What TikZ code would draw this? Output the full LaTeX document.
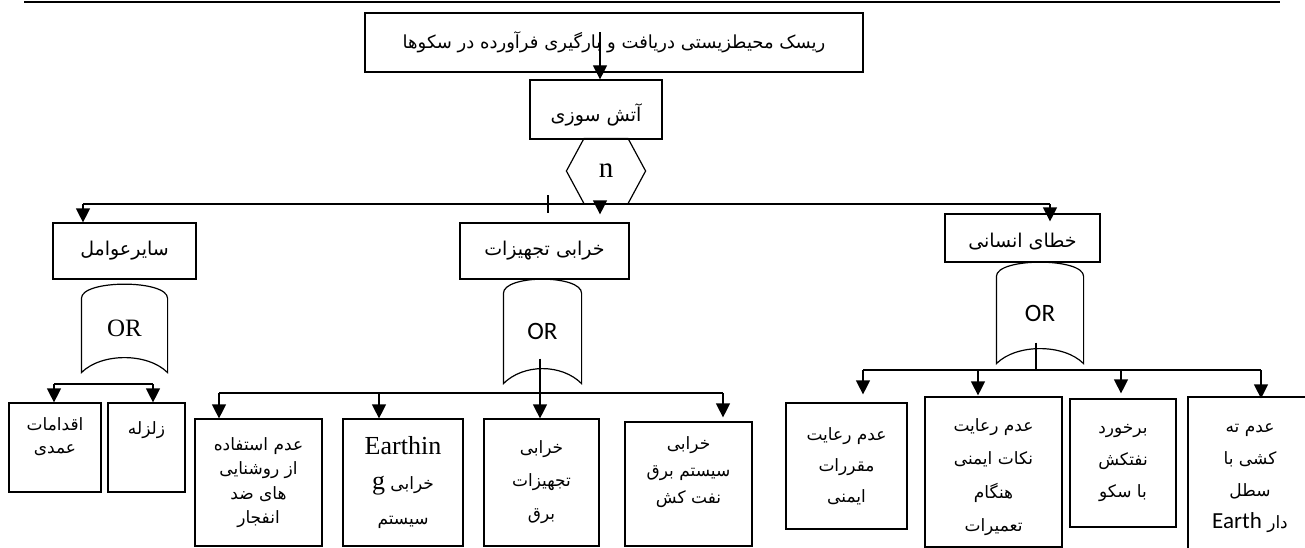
\documentclass[tikz,border=0pt]{standalone}
\usepackage{fontspec}
\usetikzlibrary{arrows.meta,calc}
\newfontfamily\fa[Script=Arabic]{DejaVu Sans}
\newfontfamily\tnr{Liberation Serif}
\newfontfamily\carl{Carlito}
\TeXXeTstate=1

\begin{document}
\begin{tikzpicture}[x=1pt, y=-1pt, line width=1.2pt, >={Triangle[length=14pt,width=14pt]},
	arr/.style={->},
	cell/.style={draw, rectangle, inner sep=0pt, align=center, font=\fa\fontsize{17}{#1}\selectfont},
	gate/.style={inner sep=0pt},
	big/.style={font=\fa\fontsize{19}{22}\selectfont}]

	\useasboundingbox (0,0) rectangle (1305,548);
	\draw[line width=2.5pt] (24,2) -- (1280,2);

	\node [cell=22, font=\fa\fontsize{18}{22}\selectfont, line width=2pt, minimum width=498pt, minimum height=59pt] (T) at (614,42.5)
		{\beginR ریسک محیطزیستی دریافت و بارگیری فرآورده در سکوها\endR};
	\node [cell=22, big, minimum width=132pt, minimum height=59pt] (F) at (596,109.5)
		{\raisebox{-5pt}[\height][\depth]{\beginR آتش سوزی\endR}};
	\node [gate, minimum width=78pt, minimum height=64pt, font=\tnr\fontsize{29}{29}\selectfont] (N) at (606,171) {n};

	\node [cell=22, big, minimum width=143pt, minimum height=56pt] (S) at (124.5,251) {\beginR سایرعوامل\endR};
	\node [cell=22, big, minimum width=169pt, minimum height=56pt] (E) at (544.5,251) {\beginR خرابی تجهیزات\endR};
	\node [cell=22, big, minimum width=155pt, minimum height=48pt] (H) at (1022.5,238)
		{\raisebox{-4pt}[\height][\depth]{\beginR خطای انسانی\endR}};

	\node [gate, minimum width=85pt, minimum height=87pt, font=\tnr\fontsize{25}{25}\selectfont] (G1) at (124.5,328.5) {OR};
	\node [gate, minimum width=77pt, minimum height=103pt, font=\carl\fontsize{25}{25}\selectfont] (G2) at (542.5,331.5) {OR};
	\node [gate, minimum width=86pt, minimum height=100pt, font=\carl\fontsize{25}{25}\selectfont] (G3) at (1040,313) {OR};

	\node [cell=23, minimum width=92pt, minimum height=89pt] (A1) at (55,447.5)
		{\beginR اقدامات\endR\\\beginR عمدی\endR\\[0pt]\mbox{}};
	\node [cell=23, minimum width=77pt, minimum height=89pt] (A2) at (146.5,447.5)
		{\beginR زلزله\endR\\[16pt]\mbox{}};

	\node [cell=24.5, minimum width=127pt, minimum height=127pt] (M1) at (258.5,482.5)
		{\beginR عدم استفاده\endR\\\beginR از روشنایی\endR\\\beginR های ضد\endR\\\beginR انفجار\endR};
	\node [cell=35, minimum width=120pt, minimum height=127pt] (M2) at (403,482.5)
		{{\tnr\fontsize{26}{35}\selectfont Earthin}\\\beginR خرابی {\tnr\fontsize{26}{35}\selectfont g}\endR\\\beginR سیستم\endR};
	\node [cell=33, minimum width=115pt, minimum height=127pt] (M3) at (541.5,482.5)
		{\beginR خرابی\endR\\\beginR تجهیزات\endR\\\beginR برق\endR};
	\node [cell=27, minimum width=127pt, minimum height=124pt] (M4) at (688.5,484)
		{\beginR خرابی\endR\\\beginR سیستم برق\endR\\\beginR نفت کش\endR\\[0pt]\mbox{}};

	\node [cell=31, minimum width=121pt, minimum height=126pt] (R1) at (846.5,466)
		{\beginR عدم رعایت\endR\\\beginR مقررات\endR\\\beginR ایمنی\endR};
	\node [cell=33.5, minimum width=137pt, minimum height=150pt] (R2) at (993.5,472)
		{\raisebox{-5pt}[\height][\depth]{\beginR عدم رعایت\endR}\\\raisebox{-5pt}[\height][\depth]{\beginR نکات ایمنی\endR}\\
		\raisebox{-5pt}[\height][\depth]{\beginR هنگام\endR}\\\raisebox{-5pt}[\height][\depth]{\beginR تعمیرات\endR}};
	\node [cell=32, minimum width=106pt, minimum height=128pt] (R3) at (1123,463)
		{\beginR برخورد\endR\\\beginR نفتکش\endR\\\beginR با سکو\endR};
	\node [cell=32, minimum width=124pt, minimum height=163pt] (R4) at (1250,478.5)
		{\beginR عدم ته\endR\\\beginR کشی با\endR\\\beginR سطل\endR\\\beginR دار \beginL{\carl\fontsize{23}{32}\selectfont Earth}\endL\endR};

	\coordinate (p1) at (83,204);
	\coordinate (p2) at (600,204);
	\coordinate (p3) at (1050,204);
	\coordinate (k) at (548,204);
	\coordinate (q1) at (54,384);
	\coordinate (q2) at (153,384);
	\coordinate (m1) at (219,393);
	\coordinate (m2) at (379,393);
	\coordinate (m3) at (540,393);
	\coordinate (m4) at (723,393);
	\coordinate (r0) at (1036,370);
	\coordinate (r1) at (863,370);
	\coordinate (r2) at (978,370);
	\coordinate (r3) at (1121,370);
	\coordinate (r4) at (1261,370);

	\draw [arr] ([xshift=-14pt,yshift=10pt]T.center) -- ([xshift=4pt]F.north);
	\draw ([xshift=-22pt]N.north) -- ([xshift=22pt]N.north) -- (N.east) -- ([xshift=22pt]N.south)
		-- ([xshift=-22pt]N.south) -- (N.west) -- cycle;

	\draw (p1) -- (p3);
	\draw ([yshift=9pt]k) -- ([yshift=-9pt]k);
	\draw [arr] (p1) -- (p1 |- S.north);
	\draw [arr, shorten >=8pt] (p2) -- (p2 |- E.north);
	\draw [arr, shorten >=-8pt] (p3) -- (p3 |- H.north);

	\foreach \g in {G1,G2,G3}
		\draw ($(\g.north west)+(0,14)$) .. controls ($(\g.north west)+(0,-5)$) and ($(\g.north east)+(0,-5)$) .. ($(\g.north east)+(0,14)$)
			-- (\g.south east) .. controls ($(\g.south east)+(-20,-20)$) and ($(\g.south west)+(20,-20)$) .. (\g.south west) -- cycle;

	\draw (q1) -- (q2);
	\draw [arr] (q1) -- (q1 |- A1.north);
	\draw [arr] (q2) -- (q2 |- A2.north);

	\draw (m1) -- (m4);
	\draw [arr] ($(m3 |- G2.south)+(0,-25)$) -- (m3 |- M3.north);
	\foreach \a/\b/\s in {m1/M1/0, m2/M2/0, m4/M4/4}
		\draw [arr, shorten >=\s pt] (\a) -- (\a |- \b.north);

	\draw (r1) -- (r4);
	\draw ($(r0 |- G3.south)+(0,-21)$) -- (r0);
	\foreach \a/\b/\s in {r1/R1/8, r2/R2/1, r3/R3/5, r4/R4/-2}
		\draw [arr, shorten >=\s pt] (\a) -- (\a |- \b.north);

\end{tikzpicture}
\end{document}
